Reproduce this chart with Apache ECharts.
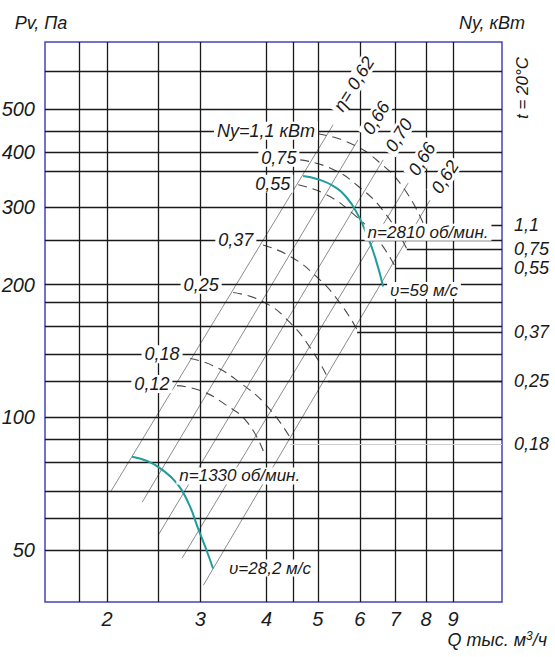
<!DOCTYPE html>
<html>
<head>
<meta charset="utf-8">
<title>Pv - Q</title>
<script src="https://cdn.jsdelivr.net/npm/echarts@6/dist/echarts.min.js"></script>
<style>
  html, body { margin: 0; padding: 0; background: #fff; }
  #chart { width: 555px; height: 657px; }
</style>
</head>
<body>
<div id="chart"></div>
<script>
// axis ranges: Q in thousand m3/h, Pv in Pa (both log)
const qRange = [1.527, 11.13];
const pRange = [38.1, 710.8];

const qTicks = [2, 3, 4, 5, 6, 7, 8, 9];
const pTicks = [50, 100, 200, 300, 400, 500];

// black grid lines
const qGrid = [1.77, 2, 2.5, 3, 4, 4.5, 5, 6, 7, 8, 9];
const pGrid = [609, 500, 447, 400, 362, 300, 252, 200, 182, 161, 139, 121, 100, 89, 79, 68, 59, 50];

// fan curves
const curve2810 = [[4.69, 353], [5.00, 347], [5.34, 335], [5.67, 315], [5.95, 288], [6.19, 259], [6.41, 231], [6.64, 198]];
const curve1330 = [[2.23, 81.4], [2.38, 79.6], [2.52, 76.6], [2.71, 70.8], [2.85, 63.8], [2.97, 56.0], [3.08, 50.0], [3.17, 45.4]];

// efficiency lines (start, end)
const etaNames = ['η= 0,62', '0,66', '0,70', '0,66', '0,62'];
const etaLines = [
  [[2.03, 67.7], [5.34, 461]],
  [[2.33, 64.2], [5.95, 426]],
  [[2.50, 54.1], [6.64, 384]],
  [[2.77, 47.9], [7.40, 340]],
  [[3.04, 41.6], [8.14, 311]]
];
const etaLabelAt = [[5.85, 571], [6.44, 478], [7.11, 437], [7.86, 386], [8.69, 351]];

// shaft power curves, kW
const powerNames = ['1,1', '0,75', '0,55', '0,37', '0,25', '0,18', '0,12'];
const powerLeftNames = ['Ny=1,1 кВт', '0,75', '0,55', '0,37', '0,25', '0,18', '0,12'];
const powerCurves = [
  [[5.00, 440], [5.75, 419], [6.55, 378], [7.30, 328], [7.93, 273]],
  [[4.63, 384], [5.27, 368], [5.95, 335], [6.69, 291], [7.36, 241]],
  [[4.59, 337], [5.16, 321], [5.80, 291], [6.46, 255], [7.02, 218]],
  [[3.94, 246], [4.43, 232], [4.98, 208], [5.50, 182], [5.93, 158]],
  [[3.46, 192], [3.94, 183], [4.43, 164], [4.87, 142], [5.22, 123]],
  [[2.87, 136], [3.17, 131], [3.56, 120], [4.01, 106], [4.43, 90]],
  [[2.71, 118], [3.00, 115], [3.34, 107], [3.69, 97], [3.97, 82]]
];
const powerLabelAt = [[3.99, 447], [4.22, 388], [4.11, 339], [3.50, 252], [3.01, 200], [2.54, 139], [2.43, 119]];
// leaders to the right-hand Ny scale: [Q start, Pv]
const powerLinks = [[7.93, 273], [7.36, 241], [7.02, 218], [5.93, 156], [5.22, 121], [4.43, 87]];

const notes = ['n=2810 об/мин.', 'υ=59 м/с', 'n=1330 об/мин.', 'υ=28,2 м/с'];
const noteAt = [[8.07, 263], [7.93, 194], [3.56, 73.6], [4.06, 45.5]];

const FONT = "'Liberation Sans', 'DejaVu Sans', sans-serif";
const INK = '#1a1a1a';
const FRAME = '#4444bb';
const TEAL = '#1f9c9c';

const chart = echarts.init(document.getElementById('chart'), null, { renderer: 'svg' });

const textStyle = (size) => ({
  color: INK, fontFamily: FONT, fontStyle: 'italic', fontSize: size
});

const series = [];

// grid lines
series.push({
  type: 'line', data: [], silent: true, z: 1,
  markLine: {
    silent: true, symbol: ['none', 'none'], animation: false,
    label: { show: false },
    lineStyle: { color: INK, width: 1.3, type: 'solid' },
    emphasis: { disabled: true },
    data: [
      ...qGrid.map(q => ({ xAxis: q })),
      ...pGrid.map(p => ({ yAxis: p }))
    ]
  }
});

// leaders to Ny scale with right labels
series.push({
  type: 'line', data: [], silent: true, z: 2,
  markLine: {
    silent: true, symbol: ['none', 'none'], animation: false,
    lineStyle: { color: INK, width: 1.3, type: 'solid' },
    emphasis: { disabled: true },
    label: Object.assign({ show: true, position: 'end', distance: 12, formatter: '{b}' }, textStyle(18)),
    data: powerLinks.map((l, i) => [
      { coord: [l[0], l[1]], name: powerNames[i],
        lineStyle: i === 5 ? { color: '#cfcfcf', width: 1 } : undefined,
        label: i === 5 ? { padding: [10, 0, 0, 0] } : undefined },
      { coord: [qRange[1], l[1]] }
    ])
  }
});

// efficiency lines
etaLines.forEach(line => {
  series.push({
    type: 'line', data: line, symbol: 'none', silent: true, z: 3,
    lineStyle: { color: '#6e6e6e', width: 0.8 }
  });
});

// power curves (dashed)
powerCurves.forEach(c => {
  series.push({
    type: 'line', data: c, symbol: 'none', smooth: true, silent: true, z: 4,
    lineStyle: { color: '#4a4a4a', width: 1.1, type: [9, 6] }
  });
});

// fan curves
[curve2810, curve1330].forEach(c => {
  series.push({
    type: 'line', data: c, symbol: 'none', smooth: true, silent: true, z: 5,
    lineStyle: { color: TEAL, width: 2 }
  });
});

// text labels anchored in data space
const labelSeries = (points, names, size, rotate) => ({
  type: 'scatter', silent: true, z: 10, symbolSize: 1,
  itemStyle: { color: 'transparent', opacity: 1 },
  data: points.map((p, i) => ({ value: p, name: names[i] })),
  label: Object.assign({
    show: true, position: 'inside', formatter: '{b}', rotate: rotate || 0,
    backgroundColor: '#fff', padding: [0, 3], textBorderWidth: 0
  }, textStyle(size))
});

series.push(labelSeries(etaLabelAt, etaNames, 18, 58));
series.push(labelSeries(powerLabelAt, powerLeftNames, 18));
series.push(labelSeries(noteAt, notes, 17));

const option = {
  animation: false,
  backgroundColor: '#fff',
  grid: {
    left: 45, right: 53, top: 42, bottom: 55,
    show: true, borderColor: FRAME, borderWidth: 1.5, backgroundColor: 'transparent',
    outerBoundsMode: 'none'
  },
  xAxis: {
    type: 'log', logBase: 10, min: qRange[0], max: qRange[1],
    axisLine: { show: false }, axisTick: { show: false }, splitLine: { show: false },
    axisLabel: Object.assign({ customValues: qTicks, margin: 7, formatter: v => String(v) }, textStyle(20)),
    name: 'Q тыс. м{s|3}/ч', nameLocation: 'end', nameGap: 45,
    nameTextStyle: Object.assign({
      align: 'right', verticalAlign: 'top', padding: [28, 0, 0, 0],
      rich: { s: { fontSize: 12, fontStyle: 'italic', fontFamily: FONT, color: INK, verticalAlign: 'top', padding: [0, 0, 8, 0] } }
    }, textStyle(18))
  },
  yAxis: [{
    type: 'log', logBase: 10, min: pRange[0], max: pRange[1],
    axisLine: { show: false }, axisTick: { show: false }, splitLine: { show: false },
    axisLabel: Object.assign({ customValues: pTicks, margin: 10, formatter: v => String(v) }, textStyle(20)),
    name: 'Pv, Па', nameLocation: 'end', nameGap: 10,
    nameTextStyle: Object.assign({ padding: [0, 8, 0, 0] }, textStyle(18))
  }, {
    type: 'log', logBase: 10, min: pRange[0], max: pRange[1], position: 'right',
    axisLine: { show: false }, axisTick: { show: false }, splitLine: { show: false },
    axisLabel: { show: false },
    name: 'Ny, кВт', nameLocation: 'end', nameGap: 10,
    nameTextStyle: Object.assign({ padding: [0, 20, 0, 0] }, textStyle(18))
  }],
  graphic: [{
    type: 'text', x: 522, y: 88, rotation: Math.PI / 2, silent: true,
    style: { text: 't = 20°C', font: 'italic 17px ' + FONT, fill: INK, align: 'center', verticalAlign: 'middle' }
  }],
  series: series
};

chart.setOption(option);
</script>
</body>
</html>
